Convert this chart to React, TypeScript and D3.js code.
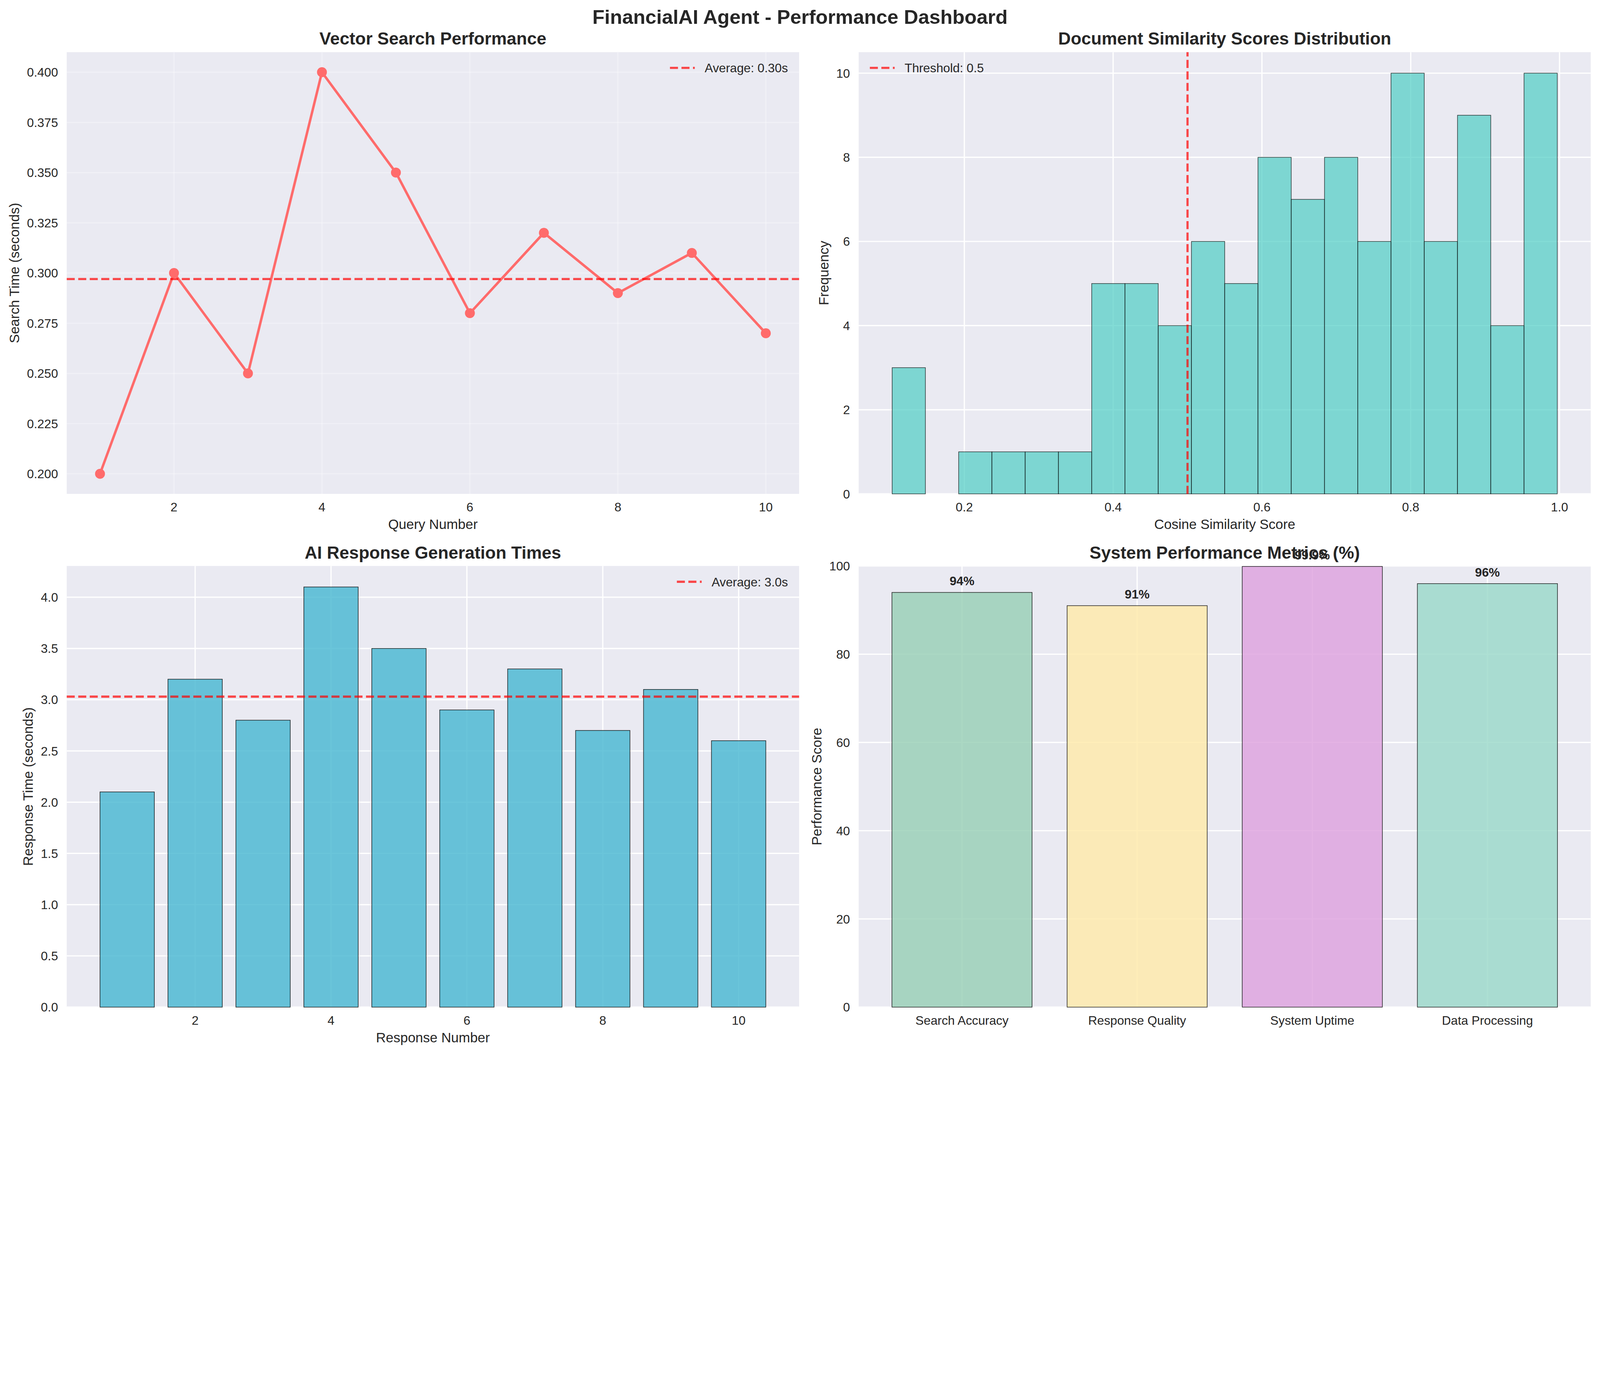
import React from 'react';
import * as d3 from 'd3';

const W = 5372;
const H = 3540;
const FONT = "'Liberation Sans', Arial, Helvetica, sans-serif";
const INK = '#262626';
const BG = '#EAEAF2';

// pt -> px at 300 dpi
const pt = (v: number) => (v * 300) / 72;

// --- data ---
const queryNumbers = [1, 2, 3, 4, 5, 6, 7, 8, 9, 10];
const searchTimes = [0.2, 0.3, 0.25, 0.4, 0.35, 0.28, 0.32, 0.29, 0.31, 0.27];
const searchTicks = [0.2, 0.225, 0.25, 0.275, 0.3, 0.325, 0.35, 0.375, 0.4];

const simCounts = [3, 0, 1, 1, 1, 1, 5, 5, 4, 6, 5, 8, 7, 8, 6, 10, 6, 9, 4, 10];
const simRange = [0.103, 0.997];
const simThreshold = 0.5;
const simXTicks = [0.2, 0.4, 0.6, 0.8, 1.0];
const simYTicks = [0, 2, 4, 6, 8, 10];

const responseNumbers = [1, 2, 3, 4, 5, 6, 7, 8, 9, 10];
const responseTimes = [2.1, 3.2, 2.8, 4.1, 3.5, 2.9, 3.3, 2.7, 3.1, 2.6];
const responseYTicks = [0, 0.5, 1, 1.5, 2, 2.5, 3, 3.5, 4];
const evenTicks = [2, 4, 6, 8, 10];

const metricNames = ['Search Accuracy', 'Response Quality', 'System Uptime', 'Data Processing'];
const metricValues = [94, 91, 99.9, 96];
const metricColors = ['#96CEB4', '#FFEAA7', '#DDA0DD', '#98D8C8'];
const metricYTicks = [0, 20, 40, 60, 80, 100];

// --- layout ---
const boxes = {
  tl: { left: 224, right: 2683, top: 175, bottom: 1658 },
  tr: { left: 2883, right: 5341, top: 175, bottom: 1658 },
  bl: { left: 224, right: 2683, top: 1900, bottom: 3381 },
  br: { left: 2883, right: 5341, top: 1900, bottom: 3381 },
};

const TICK = pt(10);
const LABEL = pt(11);
const TITLE = pt(14);

let ctx: CanvasRenderingContext2D | null = null;
function textWidth(s: string, size: number, bold = false) {
  if (!ctx) ctx = document.createElement('canvas').getContext('2d');
  if (!ctx) return s.length * size * 0.55;
  ctx.font = `${bold ? 'bold ' : ''}${size}px ${FONT}`;
  return ctx.measureText(s).width;
}

type Box = { left: number; right: number; top: number; bottom: number };

function Frame(props: {
  box: Box;
  x: d3.ScaleLinear<number, number>;
  y: d3.ScaleLinear<number, number>;
  xTicks: number[];
  yTicks: number[];
  xFmt: (v: number, i: number) => string;
  yFmt: (v: number) => string;
  gridOpacity: number;
  title: string;
  xLabel?: string;
  yLabel: string;
  children?: React.ReactNode;
}) {
  const { box, x, y, xTicks, yTicks, xFmt, yFmt, gridOpacity, title, xLabel, yLabel } = props;
  const maxW = d3.max(yTicks, (t) => textWidth(yFmt(t), TICK)) || 0;
  const yLabelX = box.left - pt(7) - maxW - pt(4) - LABEL * 0.21;
  const cx = (box.left + box.right) / 2;
  const cy = (box.top + box.bottom) / 2;
  return (
    <g>
      <rect x={box.left} y={box.top} width={box.right - box.left} height={box.bottom - box.top} fill={BG} />
      <g stroke="#fff" strokeWidth={pt(1)} strokeOpacity={gridOpacity}>
        {xTicks.map((t) => (
          <line key={'gx' + t} x1={x(t)} x2={x(t)} y1={box.top} y2={box.bottom} />
        ))}
        {yTicks.map((t) => (
          <line key={'gy' + t} x1={box.left} x2={box.right} y1={y(t)} y2={y(t)} />
        ))}
      </g>
      {props.children}
      <g fontFamily={FONT} fontSize={TICK} fill={INK}>
        {xTicks.map((t, i) => (
          <text key={'tx' + t} x={x(t)} y={box.bottom + pt(7) + TICK * 0.72} textAnchor="middle">
            {xFmt(t, i)}
          </text>
        ))}
        {yTicks.map((t) => (
          <text key={'ty' + t} x={box.left - pt(7)} y={y(t)} dy="0.36em" textAnchor="end">
            {yFmt(t)}
          </text>
        ))}
      </g>
      <text x={cx} y={box.top - pt(6)} textAnchor="middle" fontFamily={FONT} fontSize={TITLE} fontWeight="bold" fill={INK}>
        {title}
      </text>
      {xLabel && (
        <text x={cx} y={box.bottom + 118} textAnchor="middle" fontFamily={FONT} fontSize={LABEL} fill={INK}>
          {xLabel}
        </text>
      )}
      <text
        transform={`translate(${yLabelX},${cy}) rotate(-90)`}
        textAnchor="middle"
        fontFamily={FONT}
        fontSize={LABEL}
        fill={INK}
      >
        {yLabel}
      </text>
    </g>
  );
}

const DASH_W = pt(1.75);
const DASH = `${3.7 * DASH_W} ${1.6 * DASH_W}`;

function Legend({ box, label, align }: { box: Box; label: string; align: 'left' | 'right' }) {
  const tw = textWidth(label, TICK);
  const pad = pt(10) * 0.9;
  let textX: number;
  if (align === 'right') textX = box.right - pad - tw;
  else textX = box.left + pad + 2 * TICK + 0.8 * TICK;
  const hEnd = textX - 0.8 * TICK;
  const hStart = hEnd - 2 * TICK;
  const yy = box.top + 53;
  return (
    <g>
      <line x1={hStart} x2={hEnd} y1={yy} y2={yy} stroke="red" strokeOpacity={0.7} strokeWidth={DASH_W} strokeDasharray={DASH} />
      <text x={textX} y={yy} dy="0.36em" fontFamily={FONT} fontSize={TICK} fill={INK}>
        {label}
      </text>
    </g>
  );
}

function SearchPanel() {
  const box = boxes.tl;
  const x = d3.scaleLinear().domain([0.55, 10.45]).range([box.left, box.right]);
  const y = d3.scaleLinear().domain([0.19, 0.41]).range([box.bottom, box.top]);
  const avg = d3.mean(searchTimes) || 0;
  const pts = queryNumbers.map((q, i) => [q, searchTimes[i]] as [number, number]);
  const line = d3.line<[number, number]>().x((d) => x(d[0])).y((d) => y(d[1]));
  return (
    <Frame
      box={box}
      x={x}
      y={y}
      xTicks={evenTicks}
      yTicks={searchTicks}
      xFmt={(v) => String(v)}
      yFmt={(v) => v.toFixed(3)}
      gridOpacity={0.3}
      title="Vector Search Performance"
      xLabel="Query Number"
      yLabel="Search Time (seconds)"
    >
      <path d={line(pts) || ''} fill="none" stroke="#FF6B6B" strokeWidth={pt(2)} strokeLinejoin="round" />
      {pts.map((d, i) => (
        <circle key={i} cx={x(d[0])} cy={y(d[1])} r={pt(8) / 2} fill="#FF6B6B" />
      ))}
      <line x1={box.left} x2={box.right} y1={y(avg)} y2={y(avg)} stroke="red" strokeOpacity={0.7} strokeWidth={DASH_W} strokeDasharray={DASH} />
      <Legend box={box} label={`Average: ${avg.toFixed(2)}s`} align="right" />
    </Frame>
  );
}

function SimilarityPanel() {
  const box = boxes.tr;
  const x = d3.scaleLinear().domain([0.058, 1.042]).range([box.left, box.right]);
  const y = d3.scaleLinear().domain([0, 10.5]).range([box.bottom, box.top]);
  const bw = (simRange[1] - simRange[0]) / simCounts.length;
  return (
    <Frame
      box={box}
      x={x}
      y={y}
      xTicks={simXTicks}
      yTicks={simYTicks}
      xFmt={(v) => v.toFixed(1)}
      yFmt={(v) => String(v)}
      gridOpacity={1}
      title="Document Similarity Scores Distribution"
      xLabel="Cosine Similarity Score"
      yLabel="Frequency"
    >
      {simCounts.map((c, i) => {
        const x0 = x(simRange[0] + i * bw);
        const x1 = x(simRange[0] + (i + 1) * bw);
        return (
          <rect
            key={i}
            x={x0}
            y={y(c)}
            width={x1 - x0}
            height={y(0) - y(c)}
            fill="#4ECDC4"
            fillOpacity={0.7}
            stroke="#000"
            strokeOpacity={0.7}
            strokeWidth={pt(0.5)}
          />
        );
      })}
      <line x1={x(simThreshold)} x2={x(simThreshold)} y1={box.bottom} y2={box.top} stroke="red" strokeOpacity={0.7} strokeWidth={DASH_W} strokeDasharray={DASH} />
      <Legend box={box} label={`Threshold: ${simThreshold}`} align="left" />
    </Frame>
  );
}

function ResponsePanel() {
  const box = boxes.bl;
  const x = d3.scaleLinear().domain([0.11, 10.89]).range([box.left, box.right]);
  const y = d3.scaleLinear().domain([0, 4.305]).range([box.bottom, box.top]);
  const avg = d3.mean(responseTimes) || 0;
  return (
    <Frame
      box={box}
      x={x}
      y={y}
      xTicks={evenTicks}
      yTicks={responseYTicks}
      xFmt={(v) => String(v)}
      yFmt={(v) => v.toFixed(1)}
      gridOpacity={1}
      title="AI Response Generation Times"
      xLabel="Response Number"
      yLabel="Response Time (seconds)"
    >
      {responseNumbers.map((n, i) => (
        <rect
          key={n}
          x={x(n - 0.4)}
          y={y(responseTimes[i])}
          width={x(n + 0.4) - x(n - 0.4)}
          height={y(0) - y(responseTimes[i])}
          fill="#45B7D1"
          fillOpacity={0.8}
          stroke="#000"
          strokeOpacity={0.8}
          strokeWidth={pt(0.5)}
        />
      ))}
      <line x1={box.left} x2={box.right} y1={y(avg)} y2={y(avg)} stroke="red" strokeOpacity={0.7} strokeWidth={DASH_W} strokeDasharray={DASH} />
      <Legend box={box} label={`Average: ${avg.toFixed(1)}s`} align="right" />
    </Frame>
  );
}

function MetricsPanel() {
  const box = boxes.br;
  const x = d3.scaleLinear().domain([-0.59, 3.59]).range([box.left, box.right]);
  const y = d3.scaleLinear().domain([0, 100]).range([box.bottom, box.top]);
  const idx = metricNames.map((_, i) => i);
  return (
    <Frame
      box={box}
      x={x}
      y={y}
      xTicks={idx}
      yTicks={metricYTicks}
      xFmt={(_, i) => metricNames[i]}
      yFmt={(v) => String(v)}
      gridOpacity={1}
      title="System Performance Metrics (%)"
      yLabel="Performance Score"
    >
      {idx.map((i) => (
        <rect
          key={i}
          x={x(i - 0.4)}
          y={y(metricValues[i])}
          width={x(i + 0.4) - x(i - 0.4)}
          height={y(0) - y(metricValues[i])}
          fill={metricColors[i]}
          fillOpacity={0.8}
          stroke="#000"
          strokeOpacity={0.8}
          strokeWidth={pt(0.5)}
        />
      ))}
      {idx.map((i) => (
        <text
          key={'l' + i}
          x={x(i)}
          y={y(metricValues[i] + 1) - TICK * 0.22}
          textAnchor="middle"
          fontFamily={FONT}
          fontSize={TICK}
          fontWeight="bold"
          fill={INK}
        >
          {`${metricValues[i]}%`}
        </text>
      ))}
    </Frame>
  );
}

export default function App() {
  return (
    <svg
      viewBox={`0 0 ${W} ${H}`}
      preserveAspectRatio="xMidYMin meet"
      style={{
        position: 'absolute',
        left: 0,
        top: 0,
        width: '100vw',
        height: `calc(100vw * ${H} / ${W})`,
        display: 'block',
        background: '#fff',
      }}
    >
      <rect width={W} height={H} fill="#fff" />
      <text x={W / 2} y={80} textAnchor="middle" fontFamily={FONT} fontSize={pt(16)} fontWeight="bold" fill={INK}>
        FinancialAI Agent - Performance Dashboard
      </text>
      <SearchPanel />
      <SimilarityPanel />
      <ResponsePanel />
      <MetricsPanel />
    </svg>
  );
}
